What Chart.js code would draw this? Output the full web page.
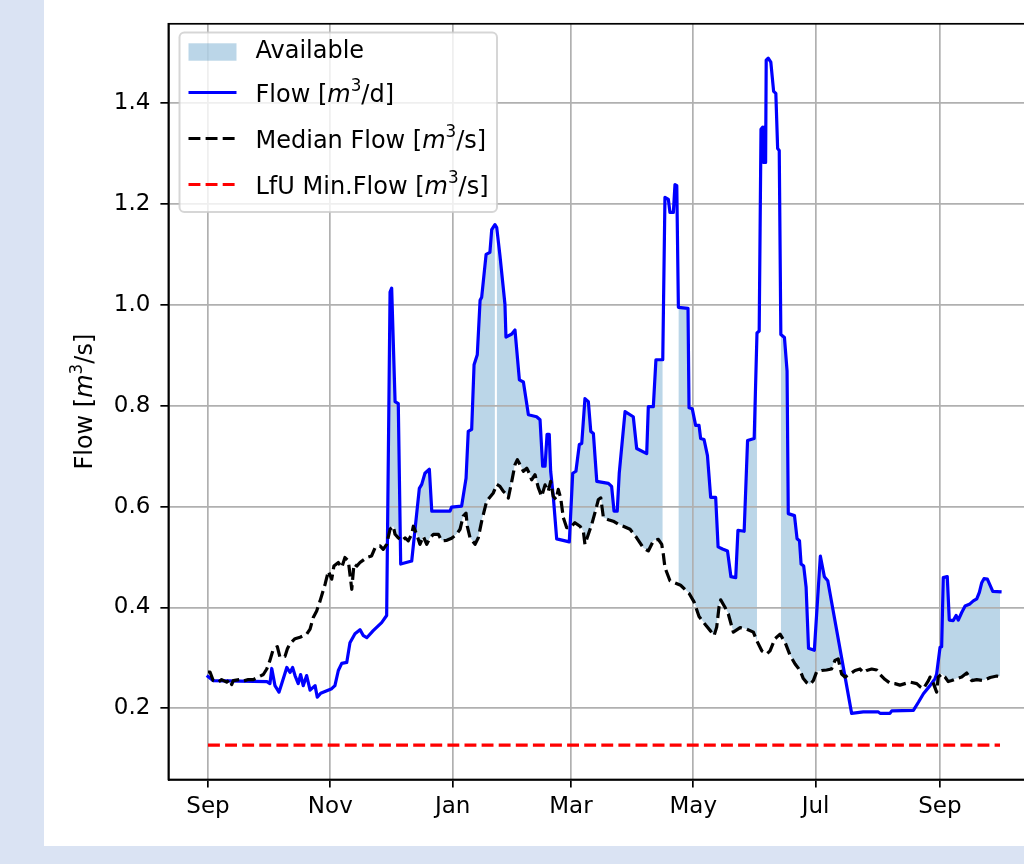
<!DOCTYPE html>
<html>
<head>
<meta charset="utf-8">
<script src="https://cdn.jsdelivr.net/npm/chart.js@4.4.1/dist/chart.umd.min.js"></script>
<style>
  html, body { margin: 0; padding: 0; width: 1024px; height: 864px; overflow: hidden; background: #dae3f3; }
  #panel { position: absolute; left: 44px; top: 0; width: 1100px; height: 846px; background: #ffffff; }
  #chart { position: absolute; left: 0; top: 0; }
</style>
</head>
<body>
<div id="panel"></div>
<canvas id="chart" width="1100" height="846"></canvas>
<script>
// Day index 0 = 1 Sep; hydrological year plus one extra month.
const flowDay = [0,2.5,29.4,30.9,31.8,33.4,35.4,36.8,39.3,40.9,
  42.2,43.4,45.0,46.2,47.5,49.2,50.9,53.4,54.5,56.2,
  61.7,63.3,65.0,66.7,69.2,70.8,73.3,75.8,77.5,79.2,
  82.4,86.6,89.1,90.8,91.6,93.3,94.9,96.1,101.6,105.4,
  106.6,108.2,110.4,111.6,120.7,121.5,126.5,128.7,129.8,131.5,
  132.7,134.3,135.7,136.5,138.7,140.6,141.5,143.1,144.0,145.6,
  148.1,148.6,151.5,153.1,155.3,157.3,159.8,163.9,165.6,166.9,
  168.1,169.1,170.2,170.9,172.2,173.9,180.2,181.9,183.5,185.2,
  186.4,188.0,189.7,190.9,192.2,193.9,199.7,201.3,202.5,204.1,
  205.1,208.0,212.1,213.8,218.8,219.6,222.1,223.4,226.8,227.9,
  229.6,230.4,232.1,232.9,233.8,234.6,239.4,239.9,241.5,243.2,
  244.9,245.7,247.4,249.1,250.7,253.2,254.4,256.6,259.1,260.8,
  263.2,264.3,267.4,269.1,272.4,273.8,274.9,275.8,276.6,277.1,
  277.4,278.1,278.4,279.4,280.7,282.1,283.2,284.1,284.9,285.7,
  287.5,288.8,289.4,292.5,293.8,295.0,295.8,297.1,298.3,299.5,
  302.4,305.4,307.4,309.1,321.0,326.8,334.3,335.2,340.1,341.0,
  351.8,354.3,356.8,360.1,362.6,363.4,365.1,365.9,366.7,368.7,
  369.7,371.7,373.1,374.2,375.9,377.6,380.0,381.7,383.4,384.7,
  385.9,387.0,388.7,391.4,395];
const flowValue = [0.263,0.255,0.253,0.249,0.279,0.245,0.232,0.249,0.281,0.271,
  0.281,0.265,0.249,0.267,0.245,0.265,0.236,0.245,0.222,0.230,
  0.239,0.245,0.275,0.289,0.291,0.330,0.348,0.356,0.344,0.340,
  0.354,0.370,0.384,1.025,1.033,0.808,0.804,0.486,0.492,0.636,
  0.644,0.666,0.674,0.591,0.591,0.599,0.601,0.656,0.749,0.753,
  0.881,0.901,1.009,1.015,1.100,1.104,1.149,1.159,1.153,1.098,
  1.001,0.936,0.942,0.950,0.851,0.847,0.782,0.778,0.772,0.680,
  0.680,0.743,0.743,0.670,0.620,0.536,0.530,0.666,0.670,0.723,
  0.725,0.814,0.808,0.749,0.745,0.650,0.646,0.640,0.591,0.591,
  0.666,0.788,0.778,0.715,0.705,0.798,0.798,0.891,0.891,1.213,
  1.209,1.183,1.183,1.238,1.236,0.995,0.993,0.796,0.794,0.761,
  0.761,0.735,0.733,0.701,0.618,0.618,0.520,0.516,0.512,0.461,
  0.459,0.553,0.551,0.731,0.735,0.944,0.948,1.348,1.352,1.282,
  1.352,1.282,1.485,1.489,1.481,1.423,1.419,1.310,1.306,0.941,
  0.935,0.869,0.586,0.582,0.536,0.532,0.486,0.482,0.440,0.319,
  0.315,0.502,0.461,0.453,0.190,0.193,0.193,0.190,0.190,0.195,
  0.196,0.212,0.229,0.245,0.259,0.268,0.321,0.322,0.459,0.461,
  0.375,0.374,0.384,0.375,0.390,0.403,0.407,0.413,0.417,0.430,
  0.449,0.457,0.456,0.432,0.431];

const medianDay = [0,1.0,2.6,5.1,6.8,9.3,11.0,11.8,12.6,16.0,
  17.6,20.1,22.6,25.1,27.6,29.3,30.9,32.6,34.6,35.9,
  38.4,39.6,40.9,43.4,45.9,49.2,50.9,52.5,54.2,55.9,
  58.4,60.0,61.7,62.8,65.0,66.7,68.3,70.0,71.7,72.8,
  74.2,75.8,79.2,81.6,83.3,85.8,87.4,89.1,90.8,92.4,
  93.3,94.9,96.6,98.3,99.9,101.6,102.4,104.1,105.7,107.4,
  109.1,110.7,112.4,114.9,116.6,119.1,121.5,124.0,125.7,127.3,
  128.7,129.3,130.7,133.2,134.8,136.5,139.0,142.3,144.0,145.6,
  147.3,148.9,149.8,151.5,153.1,154.3,155.6,157.3,159.0,160.6,
  161.4,163.1,164.7,166.4,168.1,169.7,170.9,172.2,173.6,174.7,
  175.9,177.2,178.9,180.5,183.0,185.5,187.2,188.0,189.7,191.4,
  193.0,194.7,195.9,197.2,199.7,202.1,204.6,207.1,210.5,213.8,
  217.1,219.6,222.1,224.6,226.3,227.1,227.9,230.4,235.7,239.9,
  242.4,244.9,248.2,250.7,252.4,253.7,254.9,255.7,257.9,259.5,
  262.0,265.4,268.7,272.0,273.7,276.2,278.7,280.3,282.8,285.3,
  287.8,290.3,292.8,295.3,296.9,298.6,300.2,301.9,303.5,306.0,
  308.5,311.0,312.7,314.3,316.0,317.7,320.2,322.7,325.2,326.8,
  328.5,331.0,333.5,335.2,337.7,340.1,342.6,345.1,347.6,350.1,
  353.5,355.1,356.8,359.3,360.1,361.8,363.4,364.2,365.9,367.6,
  369.2,370.9,373.4,375.9,378.4,380.9,383.4,386.7,390.1,393.4,
  395];
const medianValue = [0.272,0.272,0.255,0.252,0.257,0.252,0.257,0.247,0.255,0.257,
  0.254,0.257,0.257,0.262,0.267,0.278,0.295,0.318,0.322,0.301,
  0.303,0.318,0.328,0.338,0.341,0.347,0.357,0.380,0.393,0.413,
  0.446,0.472,0.456,0.482,0.489,0.479,0.499,0.492,0.436,0.486,
  0.482,0.489,0.499,0.502,0.518,0.522,0.515,0.525,0.555,0.561,
  0.545,0.538,0.532,0.538,0.532,0.545,0.561,0.545,0.525,0.541,
  0.525,0.538,0.545,0.545,0.532,0.533,0.537,0.545,0.555,0.581,
  0.587,0.561,0.538,0.525,0.538,0.571,0.611,0.627,0.644,0.640,
  0.630,0.624,0.617,0.650,0.683,0.693,0.683,0.670,0.676,0.663,
  0.653,0.663,0.638,0.620,0.643,0.630,0.650,0.620,0.614,0.634,
  0.617,0.578,0.558,0.558,0.568,0.561,0.551,0.525,0.545,0.565,
  0.588,0.614,0.617,0.578,0.574,0.571,0.565,0.561,0.555,0.538,
  0.518,0.512,0.532,0.535,0.525,0.505,0.479,0.453,0.444,0.428,
  0.411,0.382,0.365,0.353,0.344,0.361,0.402,0.415,0.400,0.387,
  0.351,0.360,0.357,0.351,0.334,0.314,0.308,0.314,0.338,0.347,
  0.331,0.305,0.288,0.275,0.259,0.251,0.247,0.255,0.272,0.275,
  0.276,0.278,0.295,0.298,0.268,0.262,0.268,0.275,0.278,0.271,
  0.275,0.278,0.276,0.267,0.257,0.250,0.249,0.246,0.249,0.252,
  0.249,0.243,0.239,0.255,0.262,0.249,0.232,0.262,0.268,0.262,
  0.253,0.255,0.259,0.262,0.270,0.255,0.257,0.255,0.261,0.264,
  0.263];

// LfU minimum flow, constant over the whole period
const minFlowDay = [0, 395];
const minFlowValue = [0.127, 0.127];

// Stretches where the "Available" band is not shaded (start/end day)
const availableGaps = [[143.1, 144.0], [226.8, 234.6], [273.8, 285.7]];

const monthTickDays = [0, 61, 122, 181, 242, 303, 365];
const monthTickLabels = ['Sep', 'Nov', 'Jan', 'Mar', 'May', 'Jul', 'Sep'];
const flowTicks = [0.2, 0.4, 0.6, 0.8, 1.0, 1.2, 1.4];

// ---- build datasets ----
const toPoints = (xs, ys) => xs.map((x, i) => ({ x: x, y: ys[i] }));
const flowPts = toPoints(flowDay, flowValue);
const medianPts = toPoints(medianDay, medianValue);
const minPts = toPoints(minFlowDay, minFlowValue);

// shaded band follows the flow line but breaks inside each gap
const availablePts = [];
flowPts.forEach(p => {
  const inside = availableGaps.some(g => p.x > g[0] && p.x < g[1]);
  if (!inside) availablePts.push(p);
  availableGaps.forEach(g => {
    if (p.x === g[0]) availablePts.push({ x: (g[0] + g[1]) / 2, y: null });
  });
});

const FONT = 'DejaVu Sans';
const TICK_FS = 23;
const FS = 24;
const LW = 3.2;
const DASH = [11.9, 5.2];
const FILL = 'rgba(31,119,180,0.3)';
const GRID = '#b0b0b0';

const xMin = -19.75, xMax = 414.75;
const yMin = 0.0589, yMax = 1.557;

// rich text: plain, italic and superscript runs
function runFont(r) {
  const size = r.sup ? FS * 0.7 : FS;
  return (r.it ? 'italic ' : '') + size + 'px "' + FONT + '"';
}
function richWidth(ctx, runs) {
  let w = 0;
  runs.forEach(r => { ctx.font = runFont(r); w += ctx.measureText(r.t).width; });
  return w;
}
function drawRich(ctx, x, y, runs) {
  let cx = x;
  runs.forEach(r => {
    ctx.font = runFont(r);
    ctx.fillText(r.t, cx, r.sup ? y - FS * 0.36 : y);
    cx += ctx.measureText(r.t).width;
  });
}
const unit = (tail) => [{ t: 'm', it: true }, { t: '3', sup: true }, { t: tail }];

const decorations = {
  id: 'decorations',
  afterDraw(chart) {
    const ctx = chart.ctx;
    const a = chart.chartArea;
    ctx.save();
    // frame around the plotting area
    ctx.strokeStyle = '#000';
    ctx.lineWidth = 1.7;
    ctx.strokeRect(a.left, a.top, a.right - a.left, a.bottom - a.top);

    // y-axis title
    ctx.save();
    ctx.translate(86, (a.top + a.bottom) / 2);
    ctx.rotate(-Math.PI / 2);
    ctx.fillStyle = '#000';
    ctx.textBaseline = 'middle';
    const yRuns = [{ t: 'Flow [' }].concat(unit('/s]'));
    drawRich(ctx, -richWidth(ctx, yRuns) / 2, 0, yRuns);
    ctx.restore();

    // legend box
    const bx = 179.5, by = 32.5, bw = 317.5, bh = 179.5, r = 4.8;
    ctx.beginPath();
    ctx.moveTo(bx + r, by);
    ctx.arcTo(bx + bw, by, bx + bw, by + bh, r);
    ctx.arcTo(bx + bw, by + bh, bx, by + bh, r);
    ctx.arcTo(bx, by + bh, bx, by, r);
    ctx.arcTo(bx, by, bx + bw, by, r);
    ctx.closePath();
    ctx.fillStyle = 'rgba(255,255,255,0.8)';
    ctx.fill();
    ctx.strokeStyle = 'rgba(204,204,204,0.8)';
    ctx.lineWidth = 2;
    ctx.stroke();

    const ds = chart.data.datasets;
    const hx0 = 188.5, hx1 = 236.5, tx = 255.5;
    const rows = [
      { y: 52, kind: 'patch', color: ds[0].backgroundColor, runs: [{ t: ds[0].label }] },
      { y: 92.5, kind: 'line', ds: ds[2], runs: [{ t: ds[2].label + ' [' }].concat(unit('/d]')) },
      { y: 138.5, kind: 'line', ds: ds[1], runs: [{ t: ds[1].label + ' [' }].concat(unit('/s]')) },
      { y: 184.5, kind: 'line', ds: ds[3], runs: [{ t: ds[3].label + ' [' }].concat(unit('/s]')) }
    ];
    rows.forEach(row => {
      if (row.kind === 'patch') {
        ctx.fillStyle = row.color;
        ctx.fillRect(hx0, row.y - 8.7, hx1 - hx0, 17.4);
      } else {
        ctx.beginPath();
        ctx.setLineDash(row.ds.borderDash || []);
        ctx.lineCap = 'butt';
        ctx.strokeStyle = row.ds.borderColor;
        ctx.lineWidth = LW;
        ctx.moveTo(hx0, row.y);
        ctx.lineTo(hx1, row.y);
        ctx.stroke();
        ctx.setLineDash([]);
      }
      ctx.fillStyle = '#000';
      ctx.textBaseline = 'middle';
      const dy = row.kind === 'patch' ? 0 : 3;
      drawRich(ctx, tx, row.y + dy, row.runs);
    });
    ctx.restore();
  }
};

new Chart(document.getElementById('chart'), {
  type: 'line',
  data: {
    datasets: [
      // shaded only where the flow lies above the median line
      { label: 'Available', data: availablePts, order: 3, borderWidth: 0, borderColor: 'rgba(0,0,0,0)',
        backgroundColor: FILL, pointRadius: 0, tension: 0, spanGaps: false,
        fill: { target: 1, above: FILL, below: 'rgba(0,0,0,0)' } },
      { label: 'Median Flow', data: medianPts, order: 0, borderColor: '#000000', borderWidth: LW,
        borderDash: DASH, borderCapStyle: 'butt', borderJoinStyle: 'round',
        pointRadius: 0, tension: 0, fill: false },
      { label: 'Flow', data: flowPts, order: 1, borderColor: '#0000ff', borderWidth: LW,
        borderCapStyle: 'square', borderJoinStyle: 'round',
        pointRadius: 0, tension: 0, fill: false },
      { label: 'LfU Min.Flow', data: minPts, order: 2, borderColor: '#ff0000', borderWidth: LW,
        borderDash: DASH, borderCapStyle: 'butt',
        pointRadius: 0, tension: 0, fill: false }
    ]
  },
  options: {
    responsive: false,
    animation: false,
    devicePixelRatio: 1,
    layout: { padding: { left: 0, right: 60.4, top: 20.4, bottom: 0 } },
    plugins: {
      legend: { display: false },
      tooltip: { enabled: false },
      // band goes under the grid lines
      filler: { drawTime: 'beforeDraw' }
    },
    scales: {
      x: {
        type: 'linear', min: xMin, max: xMax,
        afterBuildTicks: s => { s.ticks = monthTickDays.map(v => ({ value: v })); },
        afterFit: s => { s.height = 846 - 779.5; },
        ticks: { callback: (v, i) => monthTickLabels[i], autoSkip: false, maxRotation: 0,
                 color: '#000', padding: 6, font: { family: FONT, size: TICK_FS } },
        grid: { color: GRID, lineWidth: 1.7, tickLength: 8, tickColor: '#000', tickWidth: 1.7 },
        border: { display: true, color: '#000', width: 1.7 }
      },
      y: {
        type: 'linear', min: yMin, max: yMax,
        afterBuildTicks: s => { s.ticks = flowTicks.map(v => ({ value: v })); },
        afterFit: s => { s.width = 168.4; },
        ticks: { callback: v => v.toFixed(1), color: '#000', padding: 10,
                 font: { family: FONT, size: TICK_FS } },
        grid: { color: GRID, lineWidth: 1.7, tickLength: 8, tickColor: '#000', tickWidth: 1.7 },
        border: { display: true, color: '#000', width: 1.7 }
      }
    }
  },
  plugins: [decorations]
});
</script>
</body>
</html>
